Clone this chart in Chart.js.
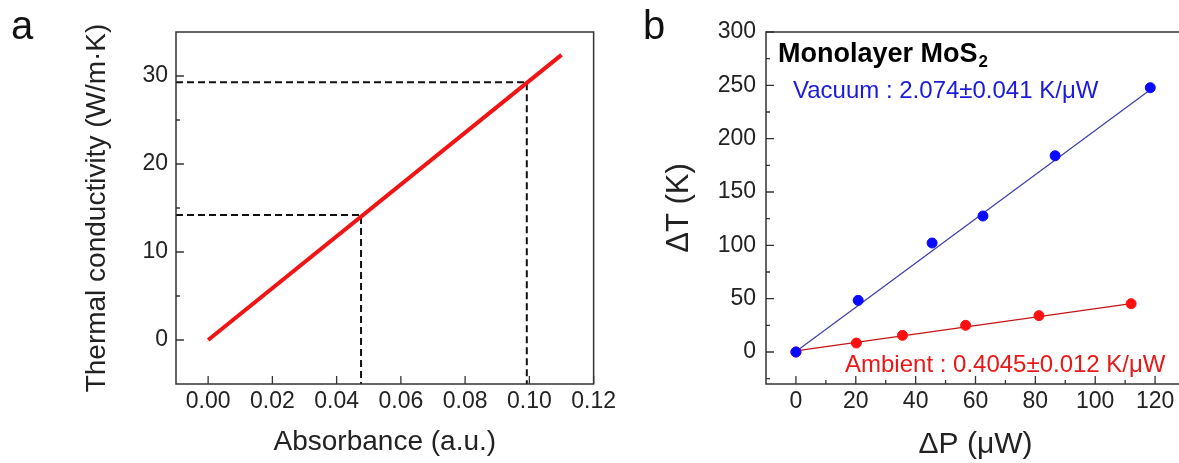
<!DOCTYPE html>
<html>
<head>
<meta charset="utf-8">
<script src="https://cdn.jsdelivr.net/npm/chart.js@4.4.1/dist/chart.umd.min.js"></script>
<style>
  html, body { margin: 0; padding: 0; background: #fff; overflow: hidden; }
  #wrap { position: relative; width: 1179px; height: 463px; }
  #chart-a { position: absolute; left: 0; top: 0; }
  #chart-b { position: absolute; left: 600px; top: 0; }
</style>
</head>
<body>
<div id="wrap">
  <canvas id="chart-a" width="620" height="463"></canvas>
  <canvas id="chart-b" width="600" height="463"></canvas>
</div>
<script>
// panel a: conductivity vs absorbance
const absorbance = [0, 0.11]
const conductivity = [0, 32.4]
const markAbs = [0.0476, 0.0992]
const markK = [14.2, 29.3]
const absTicks = [0, 0.02, 0.04, 0.06, 0.08, 0.10, 0.12]
const kTicks = [0, 10, 20, 30]
const kMinor = [5, 15, 25]

// panel b: temperature rise vs absorbed power
const powerVac = [0, 20.8, 45.5, 62.5, 86.6, 118.4]
const dTVac = [0, 48.4, 102.2, 127.5, 184, 247.8]
const powerAmb = [0, 20.2, 35.6, 56.7, 81.2, 112]
const dTAmb = [0, 8.4, 15.6, 25, 34.1, 45.3]
const fitVacX = [0, 118.4]
const fitVacY = [0.5, 245.8]
const fitAmbX = [0, 112]
const fitAmbY = [1, 45.3]
const pTicks = [0, 20, 40, 60, 80, 100, 120]
const pMinor = [10, 30, 50, 70, 90, 110]
const tTicks = [0, 50, 100, 150, 200, 250, 300]
const tMinor = [-25, 25, 75, 125, 175, 225, 275]

const FONT = "'Liberation Sans', Arial, sans-serif"
const INK = "#222"

const pts = (xs, ys) => xs.map((x, i) => ({ x: x, y: ys[i] }))

// box + inward ticks, drawn from the scales
const framePlugin = {
  id: "frame",
  afterDraw(chart, args, opts) {
    const ctx = chart.ctx
    const a = chart.chartArea
    const sx = chart.scales.x, sy = chart.scales.y
    ctx.save()
    ctx.strokeStyle = "#333"
    ctx.lineWidth = 1.5
    ctx.strokeRect(a.left, a.top, a.right - a.left, a.bottom - a.top)
    ctx.lineWidth = 1.3
    ctx.beginPath()
    sx.ticks.forEach((t) => {
      const px = sx.getPixelForValue(t.value)
      ctx.moveTo(px, a.bottom); ctx.lineTo(px, a.bottom - 8)
    })
    ;(opts.xMinor || []).forEach((v) => {
      const px = sx.getPixelForValue(v)
      ctx.moveTo(px, a.bottom); ctx.lineTo(px, a.bottom - 4)
    })
    sy.ticks.forEach((t) => {
      const py = sy.getPixelForValue(t.value)
      ctx.moveTo(a.left, py); ctx.lineTo(a.left + 8, py)
    })
    ;(opts.yMinor || []).forEach((v) => {
      const py = sy.getPixelForValue(v)
      ctx.moveTo(a.left, py); ctx.lineTo(a.left + 4, py)
    })
    ctx.stroke()

    // panel letter
    ctx.fillStyle = "#111"
    ctx.font = "40px " + FONT
    ctx.textBaseline = "alphabetic"
    ctx.fillText(opts.letter, opts.letterX, 39)

    if (opts.notes) {
      ctx.font = "bold 27px " + FONT
      ctx.fillStyle = "#000"
      const x0 = a.left + 12, y0 = a.top + 30
      ctx.fillText("Monolayer MoS", x0, y0)
      const w = ctx.measureText("Monolayer MoS").width
      ctx.font = "bold 17px " + FONT
      ctx.fillText("2", x0 + w + 1, y0 + 5)

      ctx.font = "24px " + FONT
      ctx.fillStyle = "#1a1adc"
      ctx.fillText("Vacuum : 2.074\u00b10.041 K/\u03bcW", a.left + 27, a.top + 65.5)
      ctx.fillStyle = "#e81818"
      ctx.fillText("Ambient : 0.4045\u00b10.012 K/\u03bcW", a.left + 79, a.bottom - 12)
    }
    ctx.restore()
  }
}

const baseScale = (min, max, ticks, fmt, width, height, pad, title, size) => ({
  type: "linear",
  min: min,
  max: max,
  grid: { display: false, drawTicks: false },
  border: { display: false },
  afterBuildTicks: (s) => { s.ticks = ticks.map((v) => ({ value: v })) },
  afterFit: (s) => {
    if (width) s.width = width
    if (height) s.height = height
  },
  ticks: {
    color: INK,
    padding: pad,
    font: { family: FONT, size: 23 },
    callback: fmt,
    maxRotation: 0,
    autoSkip: false
  },
  title: {
    display: true,
    text: title,
    color: INK,
    padding: 0,
    font: { family: FONT, size: size }
  }
})

new Chart(document.getElementById("chart-a"), {
  type: "scatter",
  data: {
    datasets: [
      {
        data: pts(absorbance, conductivity),
        showLine: true,
        borderColor: "#f01414",
        borderWidth: 4,
        pointRadius: 0
      },
      {
        data: [
          { x: -0.01, y: markK[1] },
          { x: markAbs[1], y: markK[1] },
          { x: markAbs[1], y: -5 }
        ],
        showLine: true,
        borderColor: "#111",
        borderWidth: 2,
        borderDash: [7, 4],
        pointRadius: 0
      },
      {
        data: [
          { x: -0.01, y: markK[0] },
          { x: markAbs[0], y: markK[0] },
          { x: markAbs[0], y: -5 }
        ],
        showLine: true,
        borderColor: "#111",
        borderWidth: 2,
        borderDash: [7, 4],
        pointRadius: 0
      }
    ]
  },
  options: {
    responsive: false,
    animation: false,
    layout: { padding: { left: 80, right: 26, top: 32, bottom: 4 } },
    scales: {
      x: baseScale(-0.01, 0.12, absTicks, (v) => v.toFixed(2), 0, 75, 4, "Absorbance (a.u.)", 28),
      y: baseScale(-5, 35, kTicks, (v) => String(v), 96, 0, 8, "Thermal conductivity (W/m\u00b7K)", 28)
    },
    plugins: {
      legend: { display: false },
      tooltip: { enabled: false },
      frame: { yMinor: kMinor, letter: "a", letterX: 11 }
    }
  },
  plugins: [framePlugin]
})

new Chart(document.getElementById("chart-b"), {
  type: "scatter",
  data: {
    datasets: [
      {
        data: pts(powerVac, dTVac),
        backgroundColor: "#0a0aff",
        borderColor: "#0a0aff",
        pointRadius: 5
      },
      {
        data: pts(powerAmb, dTAmb),
        backgroundColor: "#ff1010",
        borderColor: "#ff1010",
        pointRadius: 5
      },
      {
        data: pts(fitVacX, fitVacY),
        showLine: true,
        borderColor: "#3c3ca8",
        borderWidth: 1.2,
        pointRadius: 0
      },
      {
        data: pts(fitAmbX, fitAmbY),
        showLine: true,
        borderColor: "#c41414",
        borderWidth: 1.2,
        pointRadius: 0
      }
    ]
  },
  options: {
    responsive: false,
    animation: false,
    layout: { padding: { left: 61, right: 15, top: 32, bottom: 0 } },
    scales: {
      x: baseScale(-10, 130, pTicks, (v) => String(v), 0, 79, 4, "\u0394P (\u03bcW)", 30),
      y: baseScale(-30, 300, tTicks, (v) => String(v), 105, 0, 10, "\u0394T (K)", 31)
    },
    plugins: {
      legend: { display: false },
      tooltip: { enabled: false },
      frame: { xMinor: pMinor, yMinor: tMinor, letter: "b", letterX: 43, notes: true }
    }
  },
  plugins: [framePlugin]
})
</script>
</body>
</html>
